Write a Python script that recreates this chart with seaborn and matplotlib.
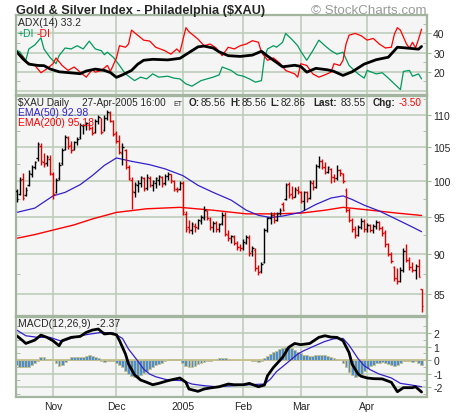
import matplotlib
matplotlib.use("Agg")
import matplotlib.pyplot as plt
import seaborn as sns
from matplotlib.ticker import FixedLocator, FixedFormatter, NullFormatter

# ---- data (trading-day index 0 = 14-Oct-2004) ----
month_starts = [12, 33, 55, 75, 94, 116]
month_labels = ["Nov", "Dec", "2005", "Feb", "Mar", "Apr"]

opens = [98.6, 98.2, 100.3, 98.0, 99.5, 101.0, 102.0, 103.4, 105.2, 102.8,
         102.6, 103.2, 101.0, 98.5, 100.4, 102.6, 104.8, 106.4, 105.4, 104.8,
         105.8, 106.5, 108.2, 108.4, 108.4, 108.0, 107.4, 109.0, 109.5, 107.6,
         109.6, 110.3, 109.0, 107.2, 105.9, 104.2, 104.6, 102.0, 100.2, 98.4,
         99.4, 99.8, 100.4, 99.0, 100.5, 99.4, 99.8, 100.2, 100.6, 99.7,
         100.7, 101.0, 100.0, 98.9, 98.9, 99.8, 95.4, 93.6, 93.2, 93.8,
         93.5, 94.4, 94.8, 95.8, 94.6, 93.6, 94.1, 93.3, 94.2, 95.2,
         92.6, 92.2, 92.3, 91.5, 91.0, 90.8, 91.5, 92.2, 90.4, 90.6,
         88.3, 87.9, 89.0, 93.2, 94.8, 95.3, 94.6, 95.5, 96.8, 97.5,
         99.6, 98.2, 97.8, 98.8, 98.4, 97.2, 98.4, 97.6, 99.8, 99.2,
         102.2, 103.0, 102.0, 101.4, 101.8, 100.6, 100.4, 101.6, 101.0, 98.8,
         96.0, 94.6, 93.4, 92.6, 93.6, 94.4, 93.3, 93.9, 93.2, 93.8,
         94.3, 93.5, 93.0, 91.3, 90.0, 88.4, 87.0, 86.6, 88.0, 90.4,
         89.3, 88.4, 88.0, 88.5, 85.56]
highs = [98.9, 100.6, 101.2, 99.2, 101.6, 102.3, 103.0, 105.8, 105.6, 104.2,
         103.9, 103.8, 101.4, 100.5, 102.8, 104.9, 106.8, 106.7, 106.0, 106.0,
         106.6, 108.7, 108.6, 108.9, 108.8, 108.2, 109.4, 110.0, 109.6, 110.0,
         110.8, 110.7, 109.2, 107.5, 106.8, 105.6, 104.8, 102.3, 100.6, 99.9,
         100.1, 100.8, 100.6, 101.0, 100.7, 100.2, 100.6, 100.9, 100.8, 101.0,
         101.3, 101.1, 100.2, 99.2, 100.0, 100.0, 95.8, 94.6, 94.3, 94.2,
         94.7, 95.3, 96.5, 96.0, 95.0, 94.4, 94.4, 94.2, 95.7, 95.6,
         93.2, 92.6, 92.5, 91.8, 91.4, 92.0, 92.6, 92.5, 91.1, 90.8,
         88.6, 89.0, 93.5, 95.0, 95.6, 95.7, 95.6, 96.2, 97.0, 99.7,
         99.9, 99.3, 99.2, 99.3, 98.6, 98.6, 98.6, 100.2, 100.2, 102.5,
         103.7, 103.2, 102.8, 102.2, 101.9, 101.0, 102.4, 101.8, 101.2, 99.0,
         96.2, 94.8, 93.8, 93.9, 94.8, 94.7, 94.2, 94.0, 94.0, 94.6,
         94.4, 93.7, 93.2, 91.5, 90.3, 88.5, 88.3, 88.4, 90.8, 91.4,
         89.7, 89.0, 88.8, 89.4, 85.56]
lows = [97.0, 98.0, 97.3, 97.9, 99.3, 100.6, 101.8, 103.0, 102.4, 102.0,
        102.2, 100.9, 97.4, 98.3, 100.2, 102.4, 104.6, 104.7, 104.2, 104.6,
        105.4, 106.3, 107.0, 107.6, 107.6, 106.8, 107.2, 108.6, 107.0, 107.5,
        109.2, 108.9, 106.7, 105.6, 104.0, 102.3, 101.8, 100.1, 96.1, 97.7,
        98.4, 99.2, 98.6, 98.8, 99.2, 98.6, 99.0, 99.5, 99.2, 99.5,
        100.1, 99.8, 98.6, 98.4, 98.8, 95.2, 93.0, 92.8, 92.7, 93.0,
        93.3, 94.0, 94.6, 94.5, 93.2, 93.0, 93.0, 93.0, 93.9, 92.4,
        91.8, 91.5, 91.2, 90.6, 90.4, 90.6, 91.3, 89.8, 89.8, 87.9,
        87.3, 87.6, 88.9, 93.0, 94.0, 94.2, 94.4, 95.3, 95.8, 97.3,
        97.6, 97.5, 97.7, 98.2, 96.9, 96.0, 97.0, 97.4, 98.8, 99.0,
        101.9, 101.8, 101.0, 101.2, 99.8, 99.9, 100.2, 100.8, 99.8, 95.6,
        94.3, 93.0, 92.2, 92.4, 93.4, 93.0, 92.9, 93.0, 92.8, 93.4,
        93.2, 92.4, 91.0, 89.8, 88.9, 86.6, 86.2, 86.5, 87.8, 89.0,
        88.0, 87.7, 86.9, 87.1, 82.86]
closes = [97.4, 100.1, 97.6, 98.8, 101.2, 102.0, 102.8, 105.5, 103.0, 102.5,
          103.6, 101.2, 98.2, 100.2, 102.4, 104.6, 106.5, 105.2, 104.6, 105.8,
          106.3, 108.4, 108.5, 108.7, 108.0, 107.2, 109.0, 109.7, 107.4, 109.6,
          110.4, 109.0, 107.0, 105.9, 104.3, 105.0, 102.1, 100.4, 98.6, 99.6,
          99.8, 100.6, 98.9, 100.6, 99.5, 100.0, 100.4, 100.7, 99.6, 100.8,
          101.0, 100.1, 98.9, 98.8, 99.7, 95.6, 93.4, 93.2, 94.0, 93.6,
          94.5, 95.0, 96.0, 94.8, 93.6, 94.2, 93.3, 94.0, 95.3, 92.7,
          92.2, 92.4, 91.5, 91.0, 90.8, 91.6, 92.3, 90.2, 90.8, 88.2,
          87.8, 88.8, 93.2, 94.8, 95.3, 94.6, 95.4, 96.0, 95.9, 99.5,
          98.0, 97.8, 98.9, 98.6, 97.2, 98.4, 97.4, 99.9, 99.2, 102.2,
          103.0, 102.0, 101.3, 102.0, 100.6, 100.4, 101.6, 101.2, 100.0, 96.0,
          94.6, 93.4, 92.6, 93.6, 94.4, 93.3, 93.9, 93.2, 93.8, 94.3,
          93.5, 92.8, 91.3, 90.0, 89.2, 87.0, 86.6, 88.0, 90.4, 89.3,
          88.4, 88.0, 88.5, 87.05, 83.55]

ema50_day = [0, 6, 12, 16, 21, 25, 29, 33, 38, 44, 49, 55, 60, 65, 71, 76, 80,
             84, 88, 94, 99, 104, 108, 111, 115, 120, 126, 131, 134]
ema50_val = [95.6, 96.2, 97.9, 98.4, 99.5, 100.8, 102.3, 103.4, 102.9, 102.4,
             101.8, 100.8, 99.4, 98.4, 97.3, 95.9, 95.2, 94.9, 95.1, 95.6, 96.7,
             97.6, 97.9, 97.4, 96.6, 95.8, 94.6, 93.6, 92.98]
ema200_day = [0, 6, 12, 19, 25, 33, 43, 54, 65, 76, 85, 94, 102, 108, 115, 126, 134]
ema200_val = [92.1, 92.6, 93.2, 93.9, 94.7, 95.6, 96.1, 96.3, 95.9, 95.4, 95.4,
              95.5, 95.9, 96.3, 96.0, 95.5, 95.18]

adx_day = [0, 2, 4, 7, 9, 11, 14, 19, 21, 23, 26, 29, 31, 33, 35, 38, 40, 42,
           45, 50, 54, 56, 60, 62, 65, 67, 70, 74, 78, 81, 83, 85, 88, 92, 94,
           96, 99, 103, 105, 108, 111, 115, 119, 123, 126, 129, 133, 134]
adx_val = [30.4, 26.8, 24.0, 23.3, 23.2, 21.5, 20.0, 19.3, 19.0, 20.4, 21.4,
           20.7, 19.6, 17.1, 18.4, 20.7, 23.9, 26.0, 26.5, 26.2, 27.0, 29.0,
           33.0, 33.4, 32.4, 30.4, 28.4, 28.0, 28.7, 30.7, 28.2, 26.0, 22.6,
           23.4, 22.8, 19.8, 21.8, 21.0, 20.2, 18.1, 20.0, 24.0, 26.3, 27.6,
           32.8, 32.4, 31.8, 33.2]
pdi_day = [0, 1, 3, 4, 6, 8, 9, 11, 13, 14, 16, 18, 20, 22, 24, 26, 28, 29, 30,
           32, 34, 36, 39, 41, 43, 45, 47, 50, 52, 54, 56, 58, 61, 63, 65, 67,
           68, 71, 73, 75, 77, 79, 81, 82, 83, 85, 86, 88, 89, 91, 93, 94, 96,
           98, 100, 102, 104, 106, 108, 110, 113, 115, 116, 119, 121, 123, 125,
           127, 128, 130, 131, 133, 134]
pdi_val = [31.2, 30.4, 26.0, 31.9, 34.0, 37.7, 31.9, 27.5, 24.2, 28.4, 32.4,
           31.9, 33.6, 31.9, 36.0, 31.9, 31.0, 28.9, 30.2, 27.5, 23.3, 18.9,
           15.4, 17.2, 16.3, 18.9, 17.2, 17.7, 16.7, 16.3, 13.7, 12.5, 15.4,
           16.3, 17.2, 18.4, 22.5, 20.7, 18.4, 17.7, 16.3, 14.6, 15.4, 27.5,
           31.9, 33.6, 32.8, 35.4, 40.0, 37.0, 33.6, 30.7, 26.0, 31.0, 36.5,
           33.6, 31.0, 29.2, 30.2, 23.3, 18.9, 16.7, 20.7, 18.9, 19.5, 16.7,
           13.7, 10.7, 20.2, 20.7, 17.7, 18.9, 16.3]
mdi_day = [0, 2, 3, 6, 8, 10, 12, 13, 15, 17, 19, 21, 23, 25, 26, 28, 30, 31,
           33, 34, 36, 37, 38, 40, 42, 44, 46, 49, 51, 53, 54, 56, 57, 60, 62,
           64, 66, 68, 70, 72, 74, 76, 78, 80, 81, 83, 85, 87, 89, 92, 93, 94,
           96, 98, 100, 102, 104, 105, 107, 108, 109, 110, 112, 114, 116, 118,
           120, 122, 124, 125, 126, 127, 129, 130, 131, 132, 133, 134]
mdi_val = [29.8, 27.9, 25.1, 23.3, 19.5, 21.6, 24.2, 27.2, 23.3, 20.7, 22.5,
           19.8, 17.2, 21.2, 19.8, 20.7, 23.3, 20.2, 27.2, 33.6, 32.8, 34.5,
           41.7, 39.1, 36.5, 36.0, 32.8, 31.0, 29.2, 31.9, 30.2, 43.0, 40.9,
           37.0, 33.6, 34.5, 32.4, 28.4, 32.8, 31.9, 33.6, 34.5, 36.2, 35.4,
           30.2, 26.0, 27.2, 24.6, 20.7, 18.9, 17.2, 24.2, 23.3, 18.9, 17.2,
           18.4, 19.8, 24.2, 23.3, 26.0, 34.5, 39.1, 40.0, 38.8, 36.5, 37.4,
           34.5, 32.4, 32.8, 39.6, 43.0, 41.7, 34.5, 32.4, 35.4, 32.4, 37.0,
           42.2]

macd_day = [0, 2, 3, 6, 8, 10, 12, 14, 15, 18, 21, 23, 25, 27, 29, 31, 33, 34,
            36, 37, 39, 41, 43, 45, 47, 50, 52, 54, 56, 57, 60, 62, 64, 67, 70,
            72, 75, 77, 80, 82, 83, 85, 88, 90, 92, 94, 97, 100, 102, 104, 106,
            108, 110, 111, 113, 114, 116, 118, 121, 124, 126, 128, 131, 132, 134]
macd_val = [1.8, 1.43, 1.23, 1.48, 1.85, 1.68, 1.43, 1.06, 1.43, 1.68, 1.75,
            2.05, 2.22, 2.3, 1.93, 1.98, 1.87, 1.45, 0.44, -0.3, -1.1, -1.48,
            -1.65, -1.83, -1.73, -1.53, -1.43, -1.33, -1.65, -2.15, -2.32, -2.15,
            -2.07, -1.98, -1.78, -1.83, -1.83, -1.73, -1.98, -1.85, -1.16, -0.54,
            0.2, 0.94, 1.23, 1.14, 1.23, 1.68, 1.8, 1.7, 1.68, 1.43, 0.55, -0.3,
            -1.04, -1.2, -1.33, -1.38, -1.4, -1.65, -2.35, -2.05, -2.05, -1.98,
            -2.37]
signal_day = [0, 3, 7, 11, 15, 19, 23, 28, 32, 35, 37, 40, 42, 44, 46, 50, 55,
              58, 62, 66, 72, 77, 82, 84, 86, 88, 91, 93, 95, 98, 102, 105, 108,
              110, 113, 115, 117, 120, 124, 127, 130, 134]
signal_val = [2.22, 1.8, 1.68, 1.68, 1.38, 1.68, 1.88, 2.05, 2.0, 1.6, 0.81,
              -0.05, -0.67, -1.04, -1.24, -1.48, -1.53, -1.78, -1.9, -1.98, -1.9,
              -1.83, -1.78, -1.41, -0.85, -0.49, 0.07, 0.44, 0.69, 0.99, 1.38,
              1.58, 1.6, 1.1, 0.1, -0.42, -0.72, -1.04, -1.33, -1.73, -1.83, -1.98]
hist_val = [-0.4, -0.5, -0.55, -0.55, -0.5, -0.4, -0.25, -0.1, 0.2, 0.25,
            0.1, 0.05, 0.0, -0.25, -0.42, -0.35, -0.15, 0.1, 0.2, 0.2,
            0.25, 0.2, 0.25, 0.3, 0.35, 0.3, 0.25, 0.15, -0.1, -0.12,
            -0.05, -0.1, -0.1, -0.2, -0.35, -0.55, -0.8, -1.0, -1.2, -1.28,
            -1.25, -1.1, -0.95, -0.8, -0.65, -0.5, -0.4, -0.3, -0.2, -0.1,
            0.0, 0.05, 0.05, 0.05, 0.08, -0.2, -0.45, -0.55, -0.5, -0.45,
            -0.3, -0.2, -0.12, -0.08, -0.05, 0.0, 0.05, 0.12, 0.15, 0.15,
            0.05, 0.02, 0.03, 0.02, 0.0, 0.02, 0.0, -0.02, -0.05, -0.1,
            -0.12, -0.05, 0.15, 0.3, 0.45, 0.6, 0.7, 0.8, 0.9, 0.95,
            1.0, 0.9, 0.75, 0.6, 0.5, 0.4, 0.35, 0.3, 0.3, 0.35,
            0.4, 0.4, 0.35, 0.3, 0.2, 0.15, 0.05, 0.0, -0.25, -0.55,
            -0.85, -1.1, -1.25, -1.2, -1.0, -0.8, -0.6, -0.45, -0.35, -0.25,
            -0.2, -0.15, -0.2, -0.3, -0.4, -0.45, -0.35, -0.2, -0.1, -0.05,
            -0.1, -0.15, -0.1, -0.2, -0.35]

days = list(range(len(closes)))

# ---- style ----
sns.set_style("white")
plt.rcParams["font.family"] = ["Liberation Sans", "DejaVu Sans"]
W, H = 460, 414
face = "#f5f5f5"
grid = "#b9cbb5"
edge = "#a3b59f"
green = "#009a5c"
blue = "#3320cc"
red = "#ff0000"


def box(x0, y0, x1, y1):
    return [x0 / W, 1 - y1 / H, (x1 - x0) / W, (y1 - y0) / H]


fig = plt.figure(figsize=(W / 100, H / 100), dpi=100)
fig.patch.set_facecolor("white")
ax_adx = fig.add_axes(box(16, 16, 427, 96))
ax_px = fig.add_axes(box(16, 97, 427, 317))
ax_m = fig.add_axes(box(16, 318, 427, 398))


def style(ax, major, labels, minor):
    ax.set_facecolor(face)
    ax.set_xlim(-0.25, 135.8)
    ax.set_xticks(month_starts)
    ax.yaxis.set_major_locator(FixedLocator(major))
    ax.yaxis.set_major_formatter(FixedFormatter(labels))
    ax.yaxis.set_minor_locator(FixedLocator(minor))
    ax.yaxis.set_minor_formatter(NullFormatter())
    ax.grid(True, which="major", color=grid, lw=1.1, zorder=0)
    ax.set_axisbelow(True)
    for s in ax.spines.values():
        s.set_color(edge)
        s.set_linewidth(1.6)
    ax.tick_params(axis="y", which="major", left=False, right=True,
                   labelleft=False, labelright=True, direction="out",
                   length=3, color=edge, labelsize=7.5, pad=1.5)
    ax.tick_params(axis="y", which="minor", left=True, right=True,
                   direction="in", length=3, color=edge)
    ax.tick_params(axis="x", length=0, labelbottom=False)
    ax.set_xlabel("")
    ax.set_ylabel("")


# ---- ADX panel ----
style(ax_adx, [20, 30, 40], ["20", "30", "40"], [15, 25, 35, 45])
ax_adx.axhline(10, color=grid, lw=1.1, zorder=0)
sns.lineplot(x=pdi_day, y=pdi_val, ax=ax_adx, color=green, lw=0.9)
sns.lineplot(x=mdi_day, y=mdi_val, ax=ax_adx, color=red, lw=0.9)
sns.lineplot(x=adx_day, y=adx_val, ax=ax_adx, color="black", lw=2.0)
ax_adx.set_ylim(7.9, 49.6)

# ---- price panel ----
ax_px.set_yscale("log")
style(ax_px, [85, 90, 95, 100, 105, 110],
      ["85", "90", "95", "100", "105", "110"],
      [87.5, 92.5, 97.5, 102.5, 107.5, 112.5])
bar_colors = ["black"] + ["#e00000" if c < p else "black"
                          for p, c in zip(closes[:-1], closes[1:])]
ax_px.vlines(days, lows, highs, colors=bar_colors, lw=1.0, zorder=3)
ax_px.hlines(opens, [d - 0.5 for d in days], days, colors=bar_colors, lw=1.0, zorder=3)
ax_px.hlines(closes, days, [d + 0.5 for d in days], colors=bar_colors, lw=1.0, zorder=3)
sns.lineplot(x=ema200_day, y=ema200_val, ax=ax_px, color=red, lw=1.0)
sns.lineplot(x=ema50_day, y=ema50_val, ax=ax_px, color=blue, lw=0.9)
ax_px.set_ylim(82.35, 113.05)

# ---- MACD panel ----
style(ax_m, [-2, -1, 0, 1, 2], ["-2", "-1", "0", "1", "2"],
      [-2.5, -1.5, -0.5, 0.5, 1.5, 2.5])
ax_m.axhline(0, color="#c9c08a", lw=1.2, zorder=1)
ax_m.bar(days, hist_val, width=0.95, color="#4b8fd0", edgecolor="#c9c08a",
         lw=0.6, zorder=2)
sns.lineplot(x=signal_day, y=signal_val, ax=ax_m, color=blue, lw=0.9)
sns.lineplot(x=macd_day, y=macd_val, ax=ax_m, color="black", lw=2.0)
ax_m.set_ylim(-2.74, 3.19)
ax_m.tick_params(axis="x", labelbottom=True, labelsize=7.5, pad=3)
ax_m.set_xticklabels(month_labels)


# ---- texts ----
def put(x, y, s, **kw):
    fig.text(x / W, 1 - y / H, s, va="baseline", **kw)


narrow = ["Liberation Sans Narrow", "Liberation Sans", "DejaVu Sans"]
put(16, 14, "Gold & Silver Index - Philadelphia ($XAU)", fontsize=9.2,
    fontweight="bold", family=narrow)
put(427, 14, "\u00a9 StockCharts.com", fontsize=9.6, color="#9a9a9a",
    ha="right", family=narrow)

put(18, 25.5, "ADX(14) 33.2", fontsize=7.5)
put(18, 37, "+DI", fontsize=7.5, color=green)
put(37, 37, "-DI", fontsize=7.5, color=red)

hs = 7.2
put(18, 106, "$XAU Daily", fontsize=hs)
put(82, 106, "27-Apr-2005 16:00", fontsize=hs)
put(173, 106, "ET", fontsize=5)
put(189, 106, "O:", fontsize=hs, fontweight="bold")
put(201, 106, "85.56", fontsize=hs)
put(230, 106, "H:", fontsize=hs, fontweight="bold")
put(242, 106, "85.56", fontsize=hs)
put(270, 106, "L:", fontsize=hs, fontweight="bold")
put(280.5, 106, "82.86", fontsize=hs)
put(313, 106, "Last:", fontsize=hs, fontweight="bold")
put(341, 106, "83.55", fontsize=hs)
put(373, 106, "Chg:", fontsize=hs, fontweight="bold")
put(398.5, 106, "-3.50", fontsize=hs, color=red)
put(18, 116, "EMA(50) 92.98", fontsize=7.5, color=blue)
put(18, 125.5, "EMA(200) 95.18", fontsize=7.5, color=red)

put(18, 327, "MACD(12,26,9)  -2.37", fontsize=7.5)

fig.savefig("out.png", dpi=100, facecolor="white")
